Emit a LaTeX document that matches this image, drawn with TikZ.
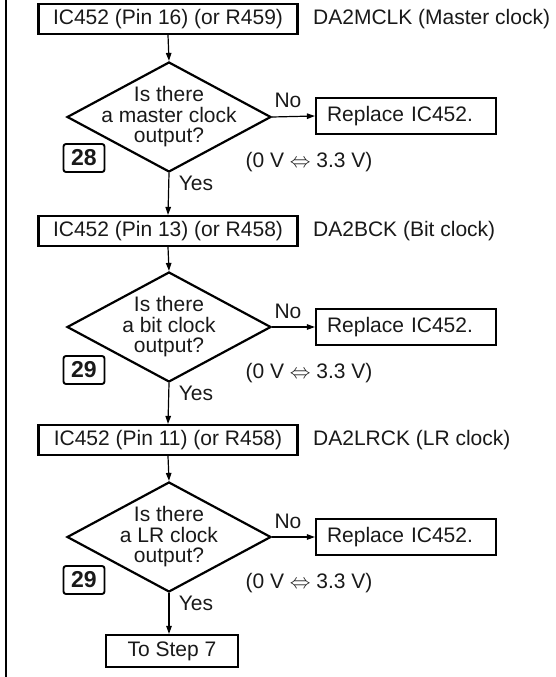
\documentclass[tikz,border=0pt]{standalone}
\usepackage{fontspec}
\setmainfont{Liberation Sans}
\usetikzlibrary{shapes.geometric,arrows.meta}
\begin{document}
\begin{tikzpicture}[x=1pt,y=-1pt,
  every node/.style={font=\fontsize{21}{20.5}\selectfont, text=black!90},
  rbox/.style={draw, line width=2.2pt, inner sep=0pt, minimum height=30pt},
  repbox/.style={rbox, minimum width=180pt, minimum height=36pt, text width=180pt, align=left, inner xsep=0pt, execute at begin node={\hspace*{11pt}}},
  dia/.style={draw, diamond, line width=2.2pt, minimum width=204pt, minimum height=110pt, inner sep=0pt},
  qtext/.style={align=center, inner sep=0pt},
  numbox/.style={draw, line width=1.9pt, rounded corners=2.5pt, minimum width=41pt, minimum height=28pt, inner sep=0pt, font=\fontsize{23}{23}\selectfont\bfseries},
  arr/.style={line width=1.2pt, -{Triangle[length=8pt,width=5.5pt]}},
  lbl/.style={inner sep=0pt}
]
\useasboundingbox (0,0) rectangle (556,677);
\draw[line width=1.6pt] (6,0) -- (6,677);

% block 1
\node[rbox, minimum width=259pt] (b1) at (168,19) {IC452 (Pin 16) (or R459)};
\node[lbl, anchor=west] (l1) at (313,19) {DA2MCLK (Master clock)};
\node[dia] (d1) at (169,117) {};
\node[qtext] (q1) at (169,117) {Is there\\a master clock\\output?};
\node[repbox] (r1) at (406,116) {Replace IC452.};
\node[lbl] (no1) at (288,100) {No};
\node[lbl] (v1) at (309,162) {(0 V $\Leftrightarrow$ 3.3 V)};
\node[lbl] (y1) at (196,183) {Yes};
\node[numbox] (n1) at (84,158) {28};

% block 2
\node[rbox, minimum width=259pt] (b2) at (168,231) {IC452 (Pin 13) (or R458)};
\node[lbl, anchor=west] (l2) at (313,231) {DA2BCK (Bit clock)};
\node[dia] (d2) at (169,327) {};
\node[qtext] (q2) at (169,327) {Is there\\a bit clock\\output?};
\node[repbox] (r2) at (406,327) {Replace IC452.};
\node[lbl] (no2) at (288,311) {No};
\node[lbl] (v2) at (309,373) {(0 V $\Leftrightarrow$ 3.3 V)};
\node[lbl] (y2) at (196,393) {Yes};
\node[numbox] (n2) at (84,370) {29};

% block 3
\node[rbox, minimum width=259pt] (b3) at (168,440) {IC452 (Pin 11) (or R458)};
\node[lbl, anchor=west] (l3) at (313,440) {DA2LRCK (LR clock)};
\node[dia] (d3) at (169,537) {};
\node[qtext] (q3) at (169,537) {Is there\\a LR clock\\output?};
\node[repbox] (r3) at (406,537) {Replace IC452.};
\node[lbl] (no3) at (288,521) {No};
\node[lbl] (v3) at (309,583) {(0 V $\Leftrightarrow$ 3.3 V)};
\node[lbl] (y3) at (196,603) {Yes};
\node[numbox] (n3) at (84,580) {29};

\node[rbox, minimum width=132pt, minimum height=32pt] (fin) at (172,651) {To Step 7};

% connectors
\draw[arr] (b1.south) -- (d1.north);
\draw[arr] (d1.east) -- (r1.west);
\draw[arr] (d1.south) -- (b2.north);
\draw[arr] (b2.south) -- (d2.north);
\draw[arr] (d2.east) -- (r2.west);
\draw[arr] (d2.south) -- (b3.north);
\draw[arr] (b3.south) -- (d3.north);
\draw[arr] (d3.east) -- (r3.west);
\draw[arr] (d3.south) -- (d3.south |- fin.north);
\end{tikzpicture}
\end{document}
